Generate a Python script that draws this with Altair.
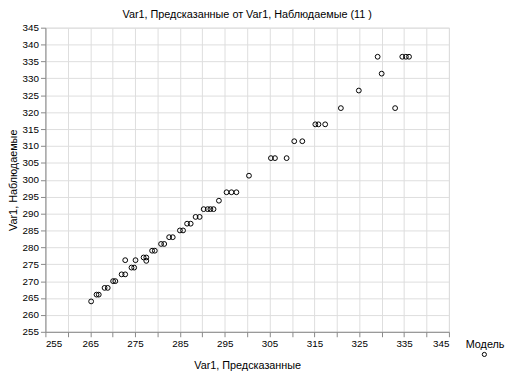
import altair as alt
import pandas as pd

pred = [265.2, 266.4, 266.9, 268.2, 268.9, 270.1, 270.6, 272.0, 272.8, 272.8,
        274.2, 274.8, 275.1, 276.9, 277.5, 277.5, 278.8, 279.4, 280.8, 281.5,
        282.6, 283.4, 285.0, 285.7, 286.6, 287.4, 288.5, 289.4, 290.3, 291.2,
        291.8, 292.5, 293.7, 295.4, 296.5, 297.6, 300.4, 305.3, 306.2, 308.8,
        310.5, 312.3, 315.2, 315.9, 317.4, 320.9, 324.9, 329.1, 330.0, 333.0,
        334.6, 335.4, 336.1]
obs = [264.0, 266.0, 266.0, 268.0, 268.0, 270.0, 270.0, 272.0, 272.0, 276.2,
       274.0, 274.0, 276.2, 277.0, 277.0, 276.0, 279.0, 279.0, 281.0, 281.0,
       283.0, 283.0, 285.0, 285.0, 287.0, 287.0, 289.0, 289.0, 291.3, 291.3,
       291.3, 291.3, 293.8, 296.3, 296.3, 296.3, 301.2, 306.4, 306.4, 306.4,
       311.4, 311.4, 316.4, 316.4, 316.4, 321.2, 326.4, 336.4, 331.4, 321.2,
       336.4, 336.4, 336.4]
ticks = list(range(255, 346, 5))

df = pd.DataFrame({"pred": pred, "obs": obs, "series": [" "] * len(pred)})

font = "Liberation Sans"

chart = alt.Chart(df).mark_point(
    shape="circle", filled=False, size=24, strokeWidth=1, opacity=1
).encode(
    x=alt.X("pred:Q", scale=alt.Scale(domain=[255, 345], nice=False, zero=False),
            axis=alt.Axis(values=ticks, title="Var1, Предсказанные", titlePadding=11,
                          titleFontWeight="normal", titleFont=font, titleFontSize=11)),
    y=alt.Y("obs:Q", scale=alt.Scale(domain=[255, 345], nice=False, zero=False),
            axis=alt.Axis(values=ticks, title="Var1, Наблюдаемые", titlePadding=4,
                          titleFontWeight="normal", titleFont=font, titleFontSize=11)),
    color=alt.Color("series:N", scale=alt.Scale(range=["black"]),
                    legend=alt.Legend(title="Модель", orient="none",
                                      legendX=427, legendY=316,
                                      symbolSize=18, symbolStrokeWidth=1,
                                      symbolFillColor="white",
                                      direction="vertical",
                                      titleFontWeight="normal", titleFontSize=11,
                                      titleFont=font, labelFontSize=1,
                                      titlePadding=2, symbolOffset=16)),
).properties(
    width=410, height=309,
    title=alt.Title("Var1, Предсказанные от  Var1, Наблюдаемые (11 )",
                    fontSize=11, fontWeight="normal", font=font, offset=3,
                    anchor="middle", color="black"),
    autosize=alt.AutoSizeParams(type="none"),
    padding={"left": 38, "top": 17, "right": 59, "bottom": 49},
).configure_view(
    stroke="black", strokeWidth=1
).configure_axis(
    labelFont=font, titleFont=font, labelFontSize=11, titleFontSize=11,
    titleFontWeight="normal", labelColor="black", titleColor="black",
    ticks=False, labelPadding=4, domainColor="black",
    gridColor="#8c8c8c", gridDash=[2, 2], gridWidth=1,
).configure(background="white")

chart.save("out.html", embed_options={"renderer": "svg", "actions": False})
